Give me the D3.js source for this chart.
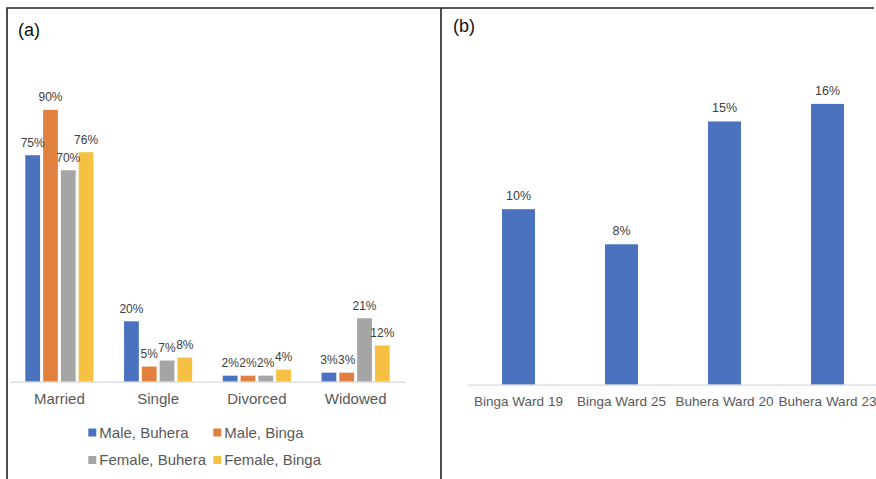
<!DOCTYPE html>
<html lang="en">
<head>
  <meta charset="UTF-8">
  <title>Marital status and ward shares</title>
  <style>
    body { margin: 0; background: #fff; }
    svg { display: block; font-family: "Liberation Sans", Arial, sans-serif; }
  </style>
</head>
<body>
  <div id="chart"></div>
  <script src="https://d3js.org/d3.v7.min.js"></script>
  <script>
  // panel (a) data
  const statuses = ['Married', 'Single', 'Divorced', 'Widowed']
  const groups = ['Male, Buhera', 'Male, Binga', 'Female, Buhera', 'Female, Binga']
  const maleBuhera = [75, 20, 2, 3]
  const maleBinga = [90, 5, 2, 3]
  const femaleBuhera = [70, 7, 2, 21]
  const femaleBinga = [76, 8, 4, 12]
  const groupColors = ['#4a72bf', '#e2813f', '#a5a5a5', '#f6c143']

  // panel (b) data
  const wards = ['Binga Ward 19', 'Binga Ward 25', 'Buhera Ward 20', 'Buhera Ward 23']
  const wardValues = [10, 8, 15, 16]

  const series = [maleBuhera, maleBinga, femaleBuhera, femaleBinga]

  const svg = d3.select('#chart')
    .append('svg')
      .attr('width', 876)
      .attr('height', 479)

  // frame lines
  svg.append('path')
    .attr('d', 'M7,479 V8 H874 M441,8 V479')
    .attr('fill', 'none')
    .attr('stroke', '#222')
    .attr('stroke-width', 1.6)

  // ---------- panel (a)
  const a = svg.append('g')

  a.append('text')
    .attr('x', 18).attr('y', 35.5)
    .attr('font-size', 18).attr('fill', '#111')
    .text('(a)')

  const xa = d3.scaleBand()
    .domain(statuses)
    .range([10, 405])

  const xInner = d3.scaleBand()
    .domain(groups)
    .range([xa.bandwidth() * 0.155, xa.bandwidth() * 0.845])
    .paddingInner(0.17)

  const ya = d3.scaleLinear()
    .domain([0, 100])
    .range([381.7, 79.7])

  const rows = series.flatMap((vals, gi) =>
    vals.map((v, ci) => ({ group: groups[gi], status: statuses[ci], value: v, gi })))

  a.append('g')
    .selectAll('rect')
    .data(rows)
    .enter()
    .append('rect')
      .attr('x', d => xa(d.status) + xInner(d.group))
      .attr('y', d => ya(d.value))
      .attr('width', xInner.bandwidth())
      .attr('height', d => ya(0) - ya(d.value))
      .attr('fill', d => groupColors[d.gi])

  a.append('g')
    .selectAll('text')
    .data(rows)
    .enter()
    .append('text')
      .attr('x', d => xa(d.status) + xInner(d.group) + xInner.bandwidth() / 2)
      .attr('y', d => ya(d.value) - 8.5)
      .attr('text-anchor', 'middle')
      .attr('font-size', 12)
      .attr('fill', '#404040')
      .text(d => d.value + '%')

  const axisA = a.append('g')
    .attr('transform', 'translate(0,381.7)')
    .call(d3.axisBottom(xa).tickSize(0).tickPadding(12))
  axisA.select('.domain').attr('stroke', '#d9d9d9').attr('stroke-width', 1.2)
  axisA.selectAll('text')
    .attr('font-size', 15)
    .attr('fill', '#595959')
    .attr('font-family', '"Liberation Sans", Arial, sans-serif')

  // legend
  const legendX = [88.3, 213.3]
  const legendY = [432.5, 460]
  const legend = a.append('g')
    .selectAll('g')
    .data(groups)
    .enter()
    .append('g')
      .attr('transform', (d, i) => `translate(${legendX[i % 2]},${legendY[Math.floor(i / 2)]})`)
  legend.append('rect')
    .attr('x', 0).attr('y', -4)
    .attr('width', 8).attr('height', 8)
    .attr('fill', (d, i) => groupColors[i])
  legend.append('text')
    .attr('x', 11).attr('y', 5.3)
    .attr('font-size', 15)
    .attr('fill', '#595959')
    .text(d => d)

  // ---------- panel (b)
  const b = svg.append('g')

  b.append('text')
    .attr('x', 453).attr('y', 32)
    .attr('font-size', 18).attr('fill', '#111')
    .text('(b)')

  const xb = d3.scaleBand()
    .domain(wards)
    .range([467, 879])
    .paddingInner(0.68)
    .paddingOuter(0.34)

  const yb = d3.scaleLinear()
    .domain([0, 18])
    .range([384.7, 68.8])

  b.append('g')
    .selectAll('rect')
    .data(wardValues)
    .enter()
    .append('rect')
      .attr('x', (d, i) => xb(wards[i]))
      .attr('y', d => yb(d))
      .attr('width', xb.bandwidth())
      .attr('height', d => yb(0) - yb(d))
      .attr('fill', groupColors[0])

  b.append('g')
    .selectAll('text')
    .data(wardValues)
    .enter()
    .append('text')
      .attr('x', (d, i) => xb(wards[i]) + xb.bandwidth() / 2)
      .attr('y', d => yb(d) - 9)
      .attr('text-anchor', 'middle')
      .attr('font-size', 12.5)
      .attr('fill', '#404040')
      .text(d => d + '%')

  const axisB = b.append('g')
    .attr('transform', 'translate(0,384.7)')
    .call(d3.axisBottom(xb).tickSize(0).tickPadding(12))
  axisB.select('.domain').attr('stroke', '#d9d9d9').attr('stroke-width', 1.2)
  axisB.selectAll('text')
    .attr('font-size', 13.5)
    .attr('fill', '#595959')
    .attr('font-family', '"Liberation Sans", Arial, sans-serif')
  </script>
</body>
</html>
